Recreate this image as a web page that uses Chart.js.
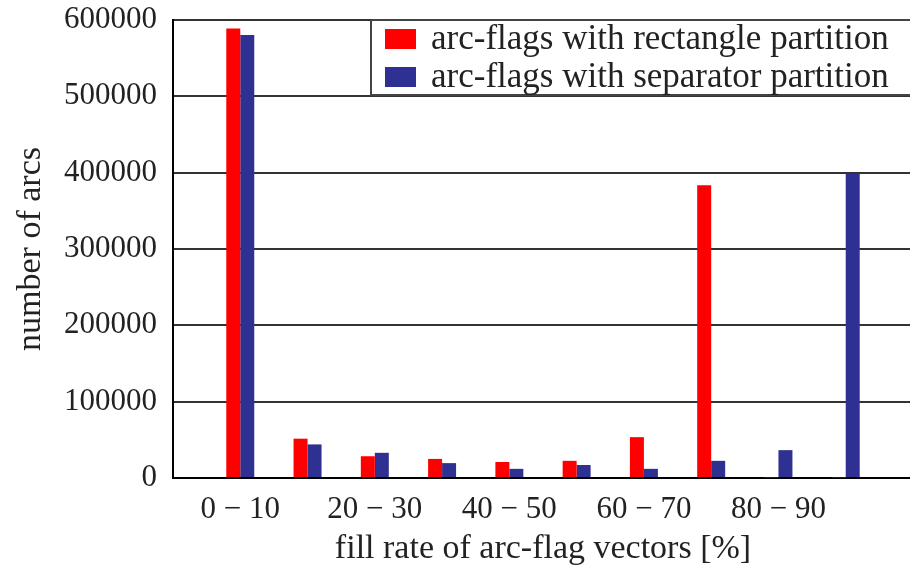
<!DOCTYPE html>
<html><head><meta charset="utf-8">
<script src="https://cdn.jsdelivr.net/npm/chart.js@4.4.0/dist/chart.umd.min.js"></script>
<style>html,body{margin:0;padding:0;overflow:hidden;background:#fff}</style>
</head><body>
<canvas id="c" width="930" height="571"></canvas>
<script>
const categories = ['0 − 10','10 − 20','20 − 30','30 − 40','40 − 50','50 − 60','60 − 70','70 − 80','80 − 90','90 − 100'];
const xTickValues = [0, 2, 4, 6, 8];
const rectangleSeries = [589000, 51500, 28500, 25000, 21000, 22500, 53500, 383500, 800, 800];
const separatorSeries = [580500, 44000, 33000, 19500, 12000, 17000, 12000, 22500, 36500, 398500];
const yTickValues = [0, 100000, 200000, 300000, 400000, 500000, 600000];
const seriesNames = ['arc-flags with rectangle partition', 'arc-flags with separator partition'];
const seriesColors = ['#ff0000', '#2e3192'];

const FAMILY = '"Liberation Serif", serif';
const FONT = {family: FAMILY, size: 31};
const TITLE_FONT = {family: FAMILY, size: 34};
const LEGEND_SIZE = 35;
const TXT = '#222';

const legendBox = {
  id: 'legendBox',
  afterDraw(chart) {
    const ctx = chart.ctx;
    const area = chart.chartArea;
    const x0 = 371, y0 = area.top, y1 = 95;
    ctx.save();
    ctx.fillStyle = '#fff';
    ctx.fillRect(x0, y0, chart.width - x0, y1 - y0);
    ctx.strokeStyle = '#444';
    ctx.lineWidth = 2;
    ctx.beginPath();
    ctx.moveTo(x0, y0); ctx.lineTo(chart.width, y0);
    ctx.moveTo(x0, y0); ctx.lineTo(x0, y1);
    ctx.lineTo(chart.width, y1);
    ctx.stroke();
    ctx.font = LEGEND_SIZE + 'px ' + FAMILY;
    ctx.textBaseline = 'middle';
    ctx.textAlign = 'left';
    chart.data.datasets.forEach((ds, i) => {
      const cy = 39 + i * 38;
      ctx.fillStyle = ds.backgroundColor;
      ctx.fillRect(385, cy - 10, 31, 20);
      ctx.fillStyle = TXT;
      ctx.fillText(ds.label, 431, cy + 1);
    });
    ctx.restore();
  }
};

new Chart(document.getElementById('c'), {
  type: 'bar',
  data: {
    datasets: [
      {label: seriesNames[0], data: rectangleSeries.map((v, i) => ({x: i, y: v})), backgroundColor: seriesColors[0], borderWidth: 0},
      {label: seriesNames[1], data: separatorSeries.map((v, i) => ({x: i, y: v})), backgroundColor: seriesColors[1], borderWidth: 0}
    ]
  },
  options: {
    responsive: false,
    devicePixelRatio: 1,
    animation: false,
    categoryPercentage: 0.416,
    barPercentage: 1.0,
    layout: {padding: {left: 0, top: 20, right: 17, bottom: 0}},
    plugins: {legend: {display: false}, tooltip: {enabled: false}},
    scales: {
      x: {
        type: 'linear', min: -1, max: 10, offset: false,
        afterBuildTicks: s => { s.ticks = xTickValues.map(v => ({value: v})); },
        ticks: {autoSkip: false, maxRotation: 0, color: TXT, font: FONT, padding: 13,
                callback: v => categories[v]},
        grid: {display: false, drawTicks: false},
        border: {display: true, color: '#000', width: 2},
        title: {display: true, text: 'fill rate of arc-flag vectors [%]', color: TXT, font: TITLE_FONT, padding: {top: 2, bottom: 2}},
        afterFit: s => { s.height = 93; s.paddingLeft = 0; s.paddingRight = 0; }
      },
      y: {
        min: 0, max: 600000,
        afterBuildTicks: s => { s.ticks = yTickValues.map(v => ({value: v})); },
        ticks: {color: TXT, font: FONT, padding: 16, callback: v => String(v)},
        grid: {color: '#333', lineWidth: 2, drawTicks: false},
        border: {display: true, color: '#000', width: 2},
        title: {display: true, text: 'number of arcs', color: TXT, font: TITLE_FONT, padding: {top: 11, bottom: 0}},
        afterFit: s => { s.width = 173; s.paddingTop = 0; s.paddingBottom = 0; }
      }
    }
  },
  plugins: [legendBox]
});
</script>
</body></html>
